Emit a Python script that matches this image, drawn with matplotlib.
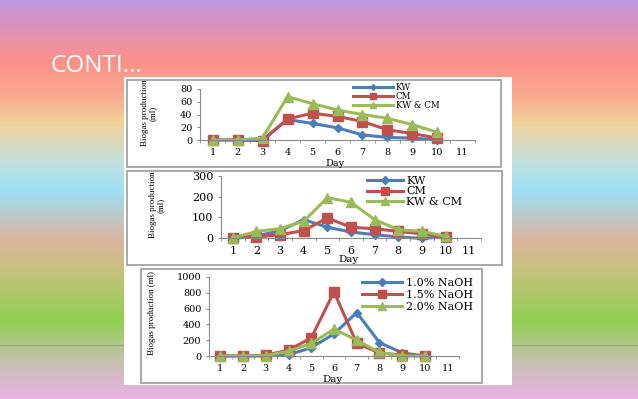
import numpy as np
import matplotlib.pyplot as plt
from matplotlib.patches import Rectangle
from matplotlib.colors import to_rgb

W, H = 638, 399

# day axis (11 category slots, 10 measured days)
days = list(range(1, 11))
day_ticks = list(range(1, 12))

# chart 1 : biogas (ml)
p1_labels = ['KW', 'CM', 'KW & CM']
p1_kw = [0, 0, 0, 32, 26, 19, 8, 4, 3, 0]
p1_cm = [0, 0, -1, 33, 42, 37, 29, 16, 10, 3]
p1_mix = [0, 0, 3, 68, 57, 47, 40, 34, 24, 12]

# chart 2
p2_labels = ['KW', 'CM', 'KW & CM']
p2_kw = [0, 10, 35, 89, 52, 29, 16, 5, -2, 5]
p2_cm = [0, 5, 16, 36, 97, 52, 45, 32, 20, 5]
p2_mix = [0, 32, 45, 81, 195, 173, 89, 40, 32, 8]

# chart 3 : NaOH pretreatment
p3_labels = ['1.0% NaOH', '1.5% NaOH', '2.0% NaOH']
p3_10 = [0, 0, 0, 15, 105, 280, 550, 170, 40, 0]
p3_15 = [0, 0, 10, 75, 230, 812, 160, 40, 10, 0]
p3_20 = [0, 0, 5, 60, 160, 340, 200, 45, 0, 0]

BLUE, RED, GREEN = '#4a7ebb', '#c0504d', '#9bbb59'
STYLES = [(BLUE, 'D', 4.5), (RED, 's', 7), (GREEN, '^', 6.5)]
SERIF = 'DejaVu Serif'

fig = plt.figure(figsize=(W / 100, H / 100), dpi=100)

#------------------------------------------------------------------------------
# slide background: vertical rainbow gradient
stops = [(0, '#bd9ade'), (20, '#d493c4'), (60, '#fc9189'), (95, '#f9a98f'),
         (123, '#f1d29a'), (160, '#c4e0dc'), (190, '#9ee0f6'), (215, '#bcc9c9'),
         (240, '#dbb69e'), (267, '#c9c07f'), (320, '#92d052'), (360, '#c5c1ad'),
         (399, '#ecb1ea')]
ys = np.arange(H)
grad = np.zeros((H, 1, 3))
for ch in range(3):
    grad[:, 0, ch] = np.interp(ys, [s[0] for s in stops],
                               [to_rgb(s[1])[ch] for s in stops])
bg = fig.add_axes([0, 0, 1, 1])
bg.imshow(grad, aspect='auto', extent=(0, W, H, 0), zorder=0)
bg.plot([0, W], [345, 345], color='#8f9c7e', lw=1, alpha=0.7, zorder=1)
bg.set_xlim(0, W)
bg.set_ylim(H, 0)
bg.axis('off')


def px_rect(ax, l, t, r, b, **kw):
    ax.add_patch(Rectangle((l, t), r - l, b - t, zorder=3, **kw))


# white picture box and the three chart frames
px_rect(bg, 124, 77, 512, 385, facecolor='white', edgecolor='none')
px_rect(bg, 127, 80, 501, 167, facecolor='none', edgecolor='#a3a3a3', lw=1.3)
px_rect(bg, 127, 171, 502, 265, facecolor='none', edgecolor='#a3a3a3', lw=1.3)
px_rect(bg, 141, 269, 482, 383, facecolor='none', edgecolor='#a3a3a3', lw=1.3)

fig.text(50 / W, 1 - 72 / H, 'CONTI...', color='white', fontsize=17.5,
         family='Open Sans', va='baseline')


#------------------------------------------------------------------------------
def panel(l, t, r, b, series, labels, ymax, ystep, tick_fs, xpad, leg):
    ax = fig.add_axes([l / W, 1 - b / H, (r - l) / W, (b - t) / H])
    ax.patch.set_alpha(0)
    for vals, (c, m, ms) in zip(series, STYLES):
        ax.plot(days, vals, color=c, marker=m, markersize=ms, lw=2.2,
                markeredgecolor=c, clip_on=False)
    ax.set_xlim(0.5, 11.5)
    ax.set_ylim(0, ymax)
    ax.set_yticks(np.arange(0, ymax + 1, ystep))
    ax.set_xticks(day_ticks)
    ax.set_xticks(np.arange(0.5, 12, 1), minor=True)
    for s in ['top', 'right']:
        ax.spines[s].set_visible(False)
    for s in ['left', 'bottom']:
        ax.spines[s].set_color('#8a8a8a')
        ax.spines[s].set_linewidth(0.8)
    ax.tick_params(axis='x', which='major', length=0, pad=xpad,
                   labelsize=tick_fs, labelfontfamily=SERIF)
    ax.tick_params(axis='x', which='minor', length=2.5, color='#8a8a8a')
    ax.tick_params(axis='y', length=2.5, color='#8a8a8a', pad=3,
                   labelsize=tick_fs, labelfontfamily=SERIF)
    lx, ly, lfs, hl, ls, msc = leg
    ax.legend(labels, loc='center left', bbox_to_anchor=(lx / W, 1 - ly / H),
              bbox_transform=fig.transFigure, frameon=False,
              prop={'family': SERIF, 'size': lfs}, borderpad=0,
              borderaxespad=0, handlelength=hl, handletextpad=0.35,
              labelspacing=ls, markerscale=msc)
    return ax


panel(200, 89, 475, 140, [p1_kw, p1_cm, p1_mix], p1_labels, 80, 20, 7, 5.5,
      (353, 96.5, 6.2, 4.6, 0.0, 0.65))
panel(221, 176, 481, 238, [p2_kw, p2_cm, p2_mix], p2_labels, 300, 100, 8, 5.5,
      (367, 191.5, 8, 3.2, 0.05, 0.85))
panel(209, 277, 459, 356, [p3_10, p3_15, p3_20], p3_labels, 1000, 200, 7, 5.5,
      (362, 295, 8, 3.6, 0.2, 0.85))

# axis titles
for x, y, txt, fs in [(149, 113, 'Biogas production\n(ml)', 6.5),
                      (157, 205, 'Biogas production\n(ml)', 6.5),
                      (152, 313, 'Biogas production (ml)', 6.5)]:
    fig.text(x / W, 1 - y / H, txt, rotation=90, ha='center', va='center',
             fontsize=fs, family='Liberation Serif', linespacing=1.0)
for x, y, fs in [(335, 163, 7), (349, 259, 7.5), (333, 379, 7.5)]:
    fig.text(x / W, 1 - y / H, 'Day', ha='center', va='center',
             fontsize=fs, family=SERIF)

fig.savefig('out.png', dpi=100)
